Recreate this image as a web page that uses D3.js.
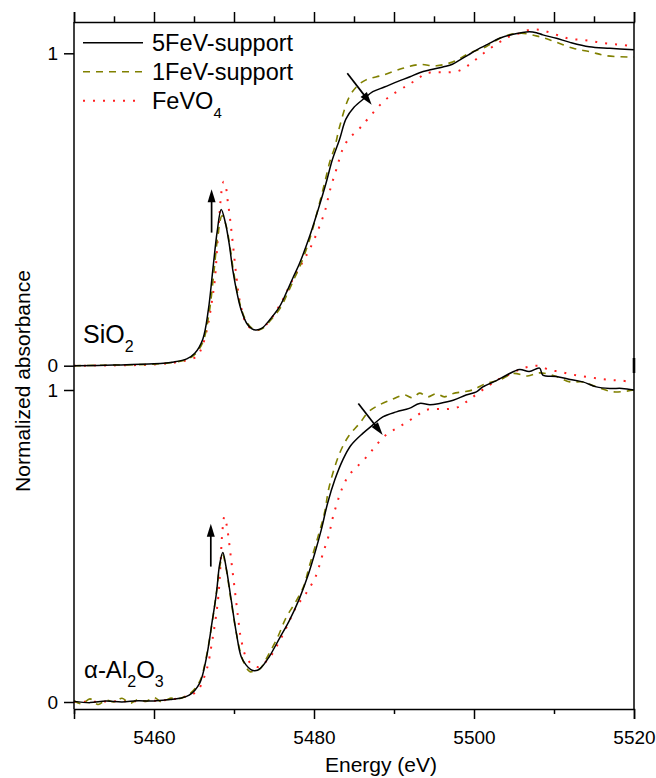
<!DOCTYPE html>
<html>
<head>
<meta charset="utf-8">
<script src="https://cdn.jsdelivr.net/npm/d3@7"></script>
<style>
  html, body { margin: 0; padding: 0; background: #fff; }
  svg text { font-family: "Liberation Sans", Arial, Helvetica, sans-serif; fill: #000; }
</style>
</head>
<body>
<svg id="chart" width="656" height="778"></svg>
<script>
// ---- Fe K-edge XANES, normalized absorbance vs energy (eV) ----

// SiO2-supported panel
const sio2_5FeV = [[5450,0],[5455,0.002],[5460,0.006],[5462.5,0.012],[5464.1,0.022],[5465.1,0.04],[5466.1,0.085],[5466.8,0.18],[5467.35,0.306],[5467.9,0.43],[5468.4,0.50],[5468.9,0.46],[5469.4,0.39],[5469.85,0.306],[5470.4,0.23],[5470.9,0.178],[5471.6,0.135],[5472.2,0.119],[5472.8,0.114],[5473.5,0.12],[5474.5,0.148],[5475.7,0.189],[5476.6,0.237],[5477.4,0.283],[5478.2,0.328],[5479.4,0.41],[5480.5,0.498],[5481.5,0.584],[5482.3,0.66],[5483.2,0.725],[5484.0,0.79],[5485.0,0.827],[5486.3,0.856],[5487.35,0.877],[5488.8,0.892],[5490.5,0.91],[5492.0,0.925],[5493.2,0.938],[5494.7,0.948],[5496.2,0.957],[5497.3,0.965],[5498.2,0.978],[5499.3,0.995],[5500.3,1.01],[5501.8,1.03],[5503.2,1.048],[5504.9,1.061],[5506.9,1.069],[5507.8,1.066],[5508.6,1.059],[5510.3,1.048],[5512.0,1.035],[5514.4,1.021],[5517,1.016],[5520,1.011]];
const sio2_1FeV = [[5450,0],[5455,0.002],[5460,0.005],[5462.5,0.011],[5464.1,0.02],[5465.1,0.036],[5466.1,0.075],[5466.9,0.17],[5467.45,0.29],[5468.0,0.42],[5468.5,0.48],[5469.0,0.45],[5469.5,0.38],[5469.95,0.30],[5470.5,0.225],[5471.0,0.175],[5471.7,0.135],[5472.3,0.119],[5472.9,0.114],[5473.6,0.12],[5474.6,0.146],[5475.8,0.185],[5476.7,0.232],[5477.5,0.277],[5478.3,0.322],[5479.4,0.40],[5480.4,0.492],[5481.3,0.582],[5482.0,0.655],[5482.6,0.70],[5483.2,0.765],[5484.4,0.86],[5485.4,0.895],[5486.5,0.915],[5488.6,0.93],[5491.1,0.952],[5493.2,0.964],[5495.3,0.96],[5497.4,0.973],[5499.4,1.0],[5501.5,1.021],[5503.6,1.053],[5505.9,1.064],[5508.2,1.053],[5510.1,1.037],[5512.4,1.016],[5514.5,1.005],[5516.6,0.992],[5520,0.988]];
const sio2_FeVO4 = [[5450,0],[5455,0.001],[5460,0.004],[5463,0.012],[5465.3,0.029],[5466.0,0.06],[5466.7,0.125],[5467.2,0.2],[5467.6,0.274],[5467.9,0.38],[5468.2,0.489],[5468.45,0.56],[5468.7,0.589],[5469.0,0.57],[5469.2,0.53],[5469.4,0.493],[5469.85,0.392],[5470.3,0.285],[5470.7,0.21],[5471.5,0.136],[5472.2,0.118],[5473.0,0.114],[5474.2,0.136],[5475.9,0.202],[5477.15,0.266],[5478.6,0.333],[5479.5,0.375],[5480.6,0.44],[5481.4,0.498],[5482.0,0.562],[5482.8,0.629],[5483.6,0.694],[5484.4,0.728],[5485.6,0.757],[5486.7,0.789],[5489.0,0.853],[5491.5,0.895],[5492.8,0.915],[5494.0,0.936],[5495.3,0.939],[5496.7,0.939],[5498.0,0.943],[5499.2,0.96],[5500.5,0.986],[5501.7,1.01],[5503.1,1.034],[5504.35,1.053],[5505.7,1.064],[5506.9,1.075],[5508.2,1.075],[5509.4,1.067],[5510.7,1.056],[5512,1.046],[5513.4,1.043],[5514.7,1.039],[5515.9,1.034],[5517.2,1.03],[5518.5,1.027],[5520,1.021]];

// alpha-Al2O3-supported panel
const al2o3_5FeV = [[5450,0.002],[5452,-0.002],[5454,0.003],[5456,0.0],[5458,0.004],[5460,0.003],[5462,0.008],[5463.2,0.012],[5464.4,0.022],[5465.7,0.06],[5466.5,0.135],[5467.3,0.263],[5467.8,0.348],[5468.2,0.44],[5468.6,0.479],[5469.0,0.434],[5469.65,0.327],[5470.3,0.22],[5470.9,0.145],[5471.5,0.119],[5472.1,0.104],[5472.6,0.10],[5473.3,0.108],[5474.4,0.145],[5475.7,0.205],[5476.9,0.26],[5478.2,0.333],[5479.2,0.402],[5480.1,0.477],[5480.9,0.551],[5481.7,0.637],[5482.6,0.712],[5483.6,0.776],[5484.6,0.822],[5486.1,0.861],[5487.35,0.888],[5488.6,0.914],[5490.3,0.93],[5491.9,0.941],[5493.2,0.957],[5494.5,0.953],[5495.7,0.957],[5497.4,0.967],[5499,0.984],[5500.3,0.994],[5501.1,1.01],[5502.8,1.03],[5504.1,1.048],[5505.7,1.066],[5506.9,1.059],[5508.2,1.07],[5508.6,1.048],[5510.3,1.043],[5512,1.034],[5513.6,1.026],[5515.3,1.01],[5517,1.005],[5518.5,1.005],[5520,1.0]];
const al2o3_1FeV = [[5450,0.004],[5451,-0.006],[5452,0.01],[5453,-0.008],[5454,0.006],[5455,0.0],[5456,0.012],[5457,-0.004],[5458,0.008],[5459,0.002],[5460,0.014],[5461,0.0],[5462,0.012],[5463,0.01],[5464.4,0.025],[5465.7,0.065],[5466.5,0.14],[5467.3,0.26],[5467.8,0.35],[5468.2,0.43],[5468.6,0.47],[5469.0,0.43],[5469.6,0.33],[5470.3,0.22],[5470.9,0.15],[5471.5,0.112],[5472.0,0.097],[5472.6,0.10],[5473.2,0.105],[5474.4,0.156],[5475.5,0.21],[5476.5,0.27],[5477.6,0.316],[5478.7,0.37],[5479.4,0.434],[5480.5,0.53],[5481.3,0.605],[5481.9,0.69],[5483.2,0.797],[5484.4,0.855],[5485.7,0.893],[5486.8,0.93],[5488,0.95],[5489.6,0.968],[5491.3,0.984],[5492.3,0.975],[5493.2,0.99],[5494.2,0.978],[5495.3,0.988],[5496.3,0.978],[5497.4,0.989],[5498.6,0.994],[5499.8,1.0],[5501.5,1.021],[5503.2,1.032],[5504.9,1.053],[5506.7,1.045],[5508.2,1.055],[5510.3,1.043],[5512,1.026],[5513.6,1.026],[5515.3,1.01],[5517.4,0.994],[5520,1.0]];
const al2o3_FeVO4 = [[5450,0.0],[5455,0.002],[5460,0.004],[5463,0.012],[5465.3,0.033],[5466.5,0.097],[5467.3,0.2],[5468.0,0.327],[5468.3,0.434],[5468.5,0.53],[5468.8,0.594],[5469.1,0.565],[5469.3,0.53],[5469.65,0.455],[5470.1,0.359],[5470.5,0.273],[5470.9,0.199],[5471.7,0.135],[5473,0.112],[5474.2,0.135],[5475.3,0.177],[5476.5,0.236],[5477.8,0.306],[5478.7,0.337],[5479.4,0.364],[5480.2,0.402],[5481,0.466],[5481.4,0.498],[5481.8,0.53],[5482.1,0.562],[5482.4,0.596],[5482.8,0.631],[5483.2,0.663],[5483.7,0.696],[5484.4,0.728],[5485.6,0.76],[5486.8,0.792],[5487.8,0.824],[5489,0.856],[5490.3,0.877],[5491.5,0.895],[5492.8,0.917],[5494,0.936],[5495.35,0.939],[5496.65,0.939],[5498,0.945],[5499.2,0.965],[5500.5,0.99],[5501.9,1.015],[5503.1,1.035],[5504.4,1.05],[5505.7,1.066],[5506.9,1.075],[5508.2,1.077],[5509.4,1.064],[5510.7,1.059],[5512,1.051],[5513.3,1.045],[5514.7,1.04],[5516,1.035],[5517.2,1.032],[5518.5,1.03],[5520,1.024]];

// series names and styles
const seriesNames = ["5FeV-support", "1FeV-support", "FeVO4"];
const seriesColors = ["#000000", "#808000", "#ff2020"];
const seriesDash = [null, "7,6", "2,8"];
const seriesWidth = [1.5, 1.6, 2];

// ticks
const xMajorTicks = [5460, 5480, 5500, 5520];
const xBottomTicks = [5450, 5460, 5470, 5480, 5490, 5500, 5510, 5520];
const xTopTicks = d3.range(5450, 5521, 5);
const yTicks = [0, 1];

// arrows (energy, absorbance): from -> to
const arrowsTop = [[[5467.2, 0.426], [5467.2, 0.565]], [[5484.16, 0.936], [5487.21, 0.835]]];
const arrowsBot = [[[5467.1, 0.434], [5467.1, 0.571]], [[5485.54, 0.957], [5488.59, 0.856]]];

const svg = d3.select("#chart");
const L = 74, R = 634, T = 22, B = 709;

const x = d3.scaleLinear().domain([5450, 5520]).range([L, R]);
const yTop = d3.scaleLinear().domain([0, 1]).range([365.7, 53.3]);
const yBot = d3.scaleLinear().domain([0, 1]).range([702, 390]);

const curve = d3.curveCatmullRom.alpha(0.5);

function drawPanel(y, sets) {
  const line = d3.line().x(d => x(d[0])).y(d => y(d[1])).curve(curve);
  // dotted first, then dashed, then solid on top
  [2, 1, 0].forEach(i => {
    svg.append("path")
      .datum(sets[i])
      .attr("d", line)
      .attr("fill", "none")
      .attr("stroke", seriesColors[i])
      .attr("stroke-width", seriesWidth[i])
      .attr("stroke-dasharray", seriesDash[i])
      .attr("stroke-linejoin", "round");
  });
}

drawPanel(yTop, [sio2_5FeV, sio2_1FeV, sio2_FeVO4]);
drawPanel(yBot, [al2o3_5FeV, al2o3_1FeV, al2o3_FeVO4]);

// frame
svg.append("line").attr("x1", L).attr("x2", L).attr("y1", T).attr("y2", B).attr("stroke", "#000").attr("stroke-width", 1.5);
svg.append("line").attr("x1", R).attr("x2", R).attr("y1", T).attr("y2", B).attr("stroke", "#000").attr("stroke-width", 1.5);
svg.append("line").attr("x1", R).attr("x2", R).attr("y1", 358).attr("y2", 373).attr("stroke", "#000").attr("stroke-width", 2.6);

// bottom axis
const axB = svg.append("g").attr("transform", `translate(0,${B})`)
  .call(d3.axisBottom(x).tickValues(xBottomTicks).tickSize(10).tickPadding(11.5)
    .tickFormat(d => xMajorTicks.includes(d) ? d : ""));
axB.select(".domain").attr("stroke-width", 1.5);
axB.selectAll(".tick line").attr("stroke-width", 1.5)
  .attr("y2", d => xMajorTicks.includes(d) ? 10 : 5);
axB.selectAll(".tick text").attr("font-size", 19).attr("font-family", null);

// top axis
const axT = svg.append("g").attr("transform", `translate(0,${T})`)
  .call(d3.axisTop(x).tickValues(xTopTicks).tickSize(10).tickFormat(""));
axT.select(".domain").attr("stroke-width", 1.5);
axT.selectAll(".tick line").attr("stroke-width", 1.5)
  .attr("y2", d => d % 10 === 0 ? -10 : -5.7);

// left axes, one per panel
[yTop, yBot].forEach(y => {
  const g = svg.append("g").attr("transform", `translate(${L},0)`)
    .call(d3.axisLeft(y).tickValues(yTicks).tickSize(10).tickPadding(6).tickFormat(d3.format("d")));
  g.select(".domain").remove();
  g.selectAll(".tick line").attr("stroke-width", 1.5);
  g.selectAll(".tick text").attr("font-size", 19).attr("font-family", null);
});

// axis titles
svg.append("text").attr("x", 381).attr("y", 772).attr("text-anchor", "middle")
  .attr("font-size", 21).text("Energy (eV)");
svg.append("text").attr("transform", "translate(30,381) rotate(-90)").attr("text-anchor", "middle")
  .attr("font-size", 21).text("Normalized absorbance");

// legend
const legY = [42.7, 71.7, 100.7];
seriesNames.forEach((name, i) => {
  svg.append("line").attr("x1", 83).attr("x2", 143).attr("y1", legY[i]).attr("y2", legY[i])
    .attr("stroke", seriesColors[i]).attr("stroke-width", seriesWidth[i])
    .attr("stroke-dasharray", seriesDash[i]);
  const t = svg.append("text").attr("x", 152).attr("y", legY[i] + 8).attr("font-size", 23.5);
  if (name === "FeVO4") {
    t.append("tspan").text("FeVO");
    t.append("tspan").attr("font-size", 15).attr("dy", 9).text("4");
  } else {
    t.text(name);
  }
});

// panel labels
const lab1 = svg.append("text").attr("x", 83).attr("y", 343).attr("font-size", 25);
lab1.append("tspan").text("SiO");
lab1.append("tspan").attr("font-size", 16).attr("dy", 9).text("2");

const lab2 = svg.append("text").attr("x", 84).attr("y", 678).attr("font-size", 24);
lab2.append("tspan").text("α-Al");
lab2.append("tspan").attr("font-size", 16).attr("dy", 9).text("2");
lab2.append("tspan").attr("dy", -9).text("O");
lab2.append("tspan").attr("font-size", 16).attr("dy", 9).text("3");

// arrows
function arrow(y, a) {
  const x0 = x(a[0][0]), y0 = y(a[0][1]), x1 = x(a[1][0]), y1 = y(a[1][1]);
  const dx = x1 - x0, dy = y1 - y0, len = Math.hypot(dx, dy);
  const ux = dx / len, uy = dy / len;
  const hl = 13, hw = 4;
  const bx = x1 - ux * hl, by = y1 - uy * hl;
  svg.append("line").attr("x1", x0).attr("y1", y0).attr("x2", bx + ux * 2).attr("y2", by + uy * 2)
    .attr("stroke", "#000").attr("stroke-width", 1.7);
  svg.append("path")
    .attr("d", `M${x1},${y1}L${bx - uy * hw},${by + ux * hw}L${bx + uy * hw},${by - ux * hw}Z`)
    .attr("fill", "#000");
}
arrowsTop.forEach(a => arrow(yTop, a));
arrowsBot.forEach(a => arrow(yBot, a));
</script>
</body>
</html>
